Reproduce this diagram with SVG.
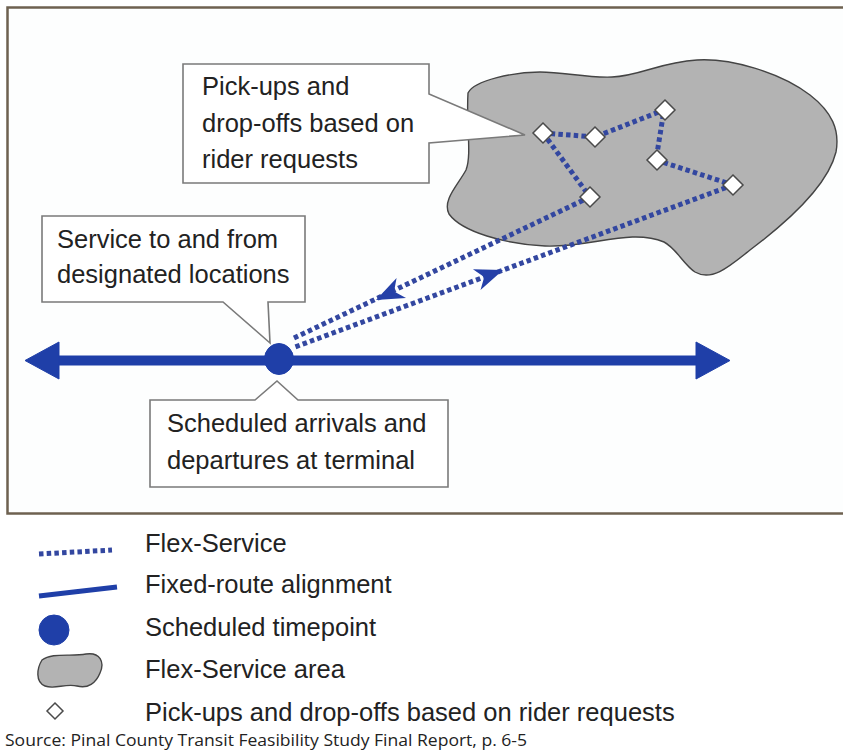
<svg xmlns="http://www.w3.org/2000/svg" width="843" height="751" viewBox="0 0 843 751">
  <style>
    .lbl { font-family: "Liberation Sans", Arial, Helvetica, sans-serif; font-size: 25.5px; fill: #222; }
    .callout { fill: #fff; stroke: #7a7a7a; stroke-width: 1.6; stroke-linejoin: miter; }
    .flex { fill: none; stroke: #3347a0; stroke-width: 5; stroke-dasharray: 4.5 3.2; }
    .route { stroke: #1f3fa8; fill: #1f3fa8; }
    .stop { fill: #fff; stroke: #4a4a4a; stroke-width: 1.5; }
    .area { fill: #b3b3b3; stroke: #444; stroke-width: 1.4; }
    .head { fill: #2540a8; }
  </style>
  <defs>
    <path id="diamond" d="M0,-10 L10,0 L0,10 L-10,0 Z"/>
    <path id="stealth" d="M0,0 L-28,-11 L-20,0 L-28,11 Z"/>
  </defs>

  <rect width="843" height="751" fill="#fff"/>
  <!-- panel frame -->
  <rect x="7.5" y="7.5" width="860" height="506" fill="#fdfefe" stroke="#6e6150" stroke-width="2.5"/>

  <!-- flex-service area -->
  <g id="flex-area">
    <path class="area" d="M468,93 C474,80 515,72 540,72 C565,72 585,78 612,77 C640,76 660,62 697,60 C730,58 780,72 810,95 C832,112 840,130 836,152 C828,185 790,220 750,250 C730,266 712,282 695,272 C684,265 676,248 664,242 C630,228 590,248 545,246 C505,244 462,232 449,214 C442,200 458,185 466,170 C472,155 466,125 468,93 Z"/>
  </g>

  <!-- connectors -->
  <g id="connectors">
    <polyline class="flex" points="543,133 595,137 664,110 656,160 733,185"/>
    <polyline class="flex" points="543,133 590,197"/>
    <line class="flex" x1="590" y1="197" x2="292" y2="339"/>
    <line class="flex" x1="733" y1="185" x2="295" y2="347"/>
    <use href="#stealth" class="head" transform="translate(376,300) rotate(154.6)"/>
    <use href="#stealth" class="head" transform="translate(503,270) rotate(-20.2)"/>
  </g>

  <!-- pick-up / drop-off points -->
  <g id="stops">
    <use href="#diamond" class="stop" x="543" y="133"/>
    <use href="#diamond" class="stop" x="595" y="137"/>
    <use href="#diamond" class="stop" x="665" y="110"/>
    <use href="#diamond" class="stop" x="657" y="160"/>
    <use href="#diamond" class="stop" x="733" y="185"/>
    <use href="#diamond" class="stop" x="590" y="197"/>
  </g>

  <!-- fixed route with terminal -->
  <g id="fixed-route">
    <rect class="route" x="50" y="356" width="655" height="9" stroke="none"/>
    <polygon class="route" points="25,360.5 59,342 59,379" stroke="none"/>
    <polygon class="route" points="730,360.5 696,342 696,379" stroke="none"/>
  </g>
  <g id="terminal">
    <ellipse class="route" cx="279" cy="359" rx="14.5" ry="15.5" stroke="none"/>
  </g>

  <!-- callouts -->
  <g id="callout-requests">
    <path class="callout" d="M183,64 H429 V94 L525,135 L429,143 V183 H183 Z"/>
    <text class="lbl" x="202" y="95">Pick-ups and</text>
    <text class="lbl" x="202" y="132">drop-offs based on</text>
    <text class="lbl" x="202" y="168">rider requests</text>
  </g>
  <g id="callout-service">
    <path class="callout" d="M42,216 H305 V302 H268 L270,343 L223,302 H42 Z"/>
    <text class="lbl" x="57" y="248">Service to and from</text>
    <text class="lbl" x="57" y="283">designated locations</text>
  </g>
  <g id="callout-terminal">
    <path class="callout" d="M150,400 H255 L277,381 L298,400 H448 V487 H150 Z"/>
    <text class="lbl" x="167" y="432">Scheduled arrivals and</text>
    <text class="lbl" x="167" y="469">departures at terminal</text>
  </g>

  <!-- legend -->
  <g id="legend">
    <line class="flex" x1="39" y1="554" x2="112" y2="550" stroke-width="5.5" stroke-dasharray="6 3"/>
    <text class="lbl" x="145" y="552">Flex-Service</text>
    <line class="route" x1="39" y1="596" x2="117" y2="587" stroke-width="5"/>
    <text class="lbl" x="145" y="593">Fixed-route alignment</text>
    <circle class="route" cx="54" cy="630" r="15" stroke="none"/>
    <text class="lbl" x="145" y="636">Scheduled timepoint</text>
    <path class="area" d="M42,660 C52,652 72,657 86,654 C100,652 105,662 100,673 C96,683 88,689 77,686 C65,683 55,690 45,686 C35,682 37,668 42,660 Z"/>
    <text class="lbl" x="145" y="678">Flex-Service area</text>
    <path class="stop" d="M55,703 L63,711 L55,719 L47,711 Z"/>
    <text class="lbl" x="145" y="721">Pick-ups and drop-offs based on rider requests</text>
  </g>

  <text x="5" y="746" font-family="'Open Sans', 'Liberation Sans', sans-serif" font-size="16" fill="#222" textLength="522" lengthAdjust="spacingAndGlyphs">Source:  Pinal County Transit Feasibility Study Final Report, p. 6-5</text>
</svg>
